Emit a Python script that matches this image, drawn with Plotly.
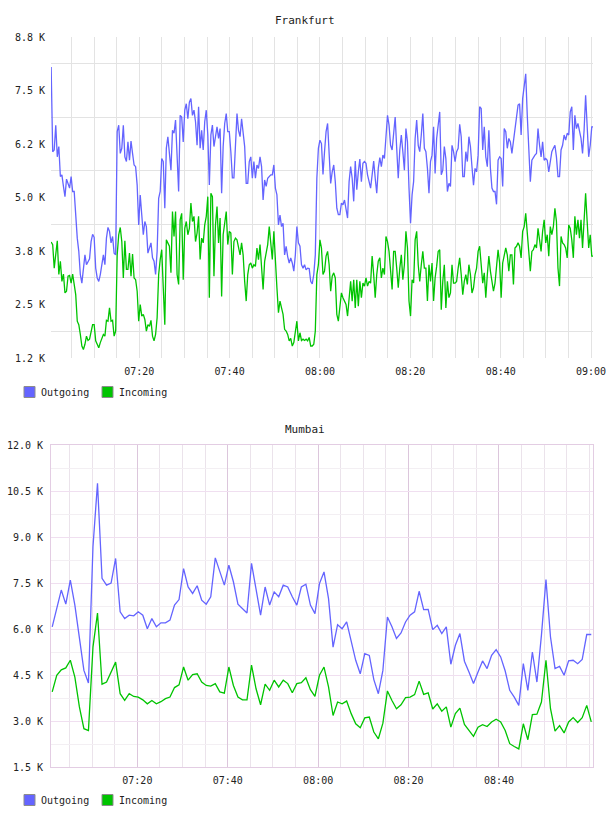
import numpy as np
import pandas as pd
import plotly.graph_objects as go

# ---------------- data (values in thousands) ----------------
fr_outgoing = [
    8.05, 6.07, 6.11, 6.69, 5.95, 6.19, 5.49, 5.53, 5.26, 5.02,
    5.43, 5.33, 5.22, 5.49, 5.14, 5.14, 4.48, 4.05, 3.74, 3.20,
    3.00, 3.28, 3.66, 3.43, 3.51, 3.57, 3.97, 4.14, 4.07, 3.35,
    3.12, 3.04, 3.20, 3.43, 3.66, 3.43, 4.05, 4.30, 4.21, 3.94,
    4.09, 3.70, 3.66, 6.54, 6.69, 6.03, 6.15, 6.69, 5.95, 5.84,
    6.30, 5.87, 6.32, 6.03, 5.76, 5.72, 5.29, 4.36, 5.06, 4.59,
    4.13, 4.44, 4.32, 3.70, 3.82, 3.94, 3.59, 3.51, 3.20, 3.74,
    4.98, 5.14, 5.91, 5.84, 4.75, 6.15, 6.42, 6.07, 5.64, 6.57,
    6.50, 6.81, 6.03, 5.14, 6.92, 6.88, 6.30, 7.04, 7.19, 6.84,
    7.23, 7.31, 6.92, 7.04, 6.77, 6.22, 7.12, 6.15, 6.57, 6.11,
    6.77, 7.04, 6.46, 5.29, 6.46, 6.69, 6.19, 6.46, 6.65, 6.38,
    6.61, 5.10, 6.19, 6.73, 6.96, 6.54, 6.54, 6.07, 5.46, 5.46,
    6.19, 6.96, 6.57, 6.42, 6.84, 6.54, 6.19, 5.33, 5.33, 5.84,
    5.95, 5.45, 5.84, 5.45, 5.76, 5.68, 5.95, 5.72, 4.94, 5.41,
    5.26, 5.45, 5.49, 5.53, 5.53, 5.76, 5.22, 5.06, 4.36, 4.59,
    4.32, 4.40, 3.66, 3.86, 3.62, 3.47, 3.59, 3.47, 3.28, 3.66,
    4.32, 3.94, 3.86, 3.43, 3.35, 3.43, 3.31, 3.35, 3.34, 3.04,
    2.98, 3.20, 3.66, 5.45, 6.15,
    6.34, 6.26, 5.54, 6.07, 6.54, 6.73, 6.07, 5.33, 5.60, 5.76,
    5.37, 4.75, 4.60, 4.60, 4.87, 4.83, 4.94, 4.75, 4.52, 5.37,
    5.72, 5.45, 4.91, 5.85, 5.18, 5.60, 5.90, 5.37, 5.80, 5.84,
    5.80, 5.53, 5.33, 5.22, 5.53, 5.85, 5.45, 5.10, 5.68, 5.93,
    5.72, 5.99, 5.91, 6.57, 6.92, 6.69, 6.22, 6.11, 6.54, 6.88,
    6.15, 5.45, 6.11, 6.46, 6.07, 5.64, 6.61, 6.30, 5.22, 4.40,
    5.06, 5.37, 6.38, 6.81, 6.22, 6.07, 6.46, 6.96, 6.15, 6.07,
    5.68, 5.10, 5.84, 5.99, 6.65, 5.56, 6.38, 6.69, 7.00, 5.53,
    5.64, 6.19, 5.91, 5.14, 5.33, 5.26, 6.22, 6.07, 5.84, 6.07,
    6.15, 6.71, 6.42, 5.49, 5.49, 6.07, 5.84, 6.42, 6.19, 5.72,
    5.29, 5.68, 5.60, 5.99, 7.12, 7.08, 6.11, 6.65, 5.95, 5.72,
    6.57, 5.68, 5.22, 5.14, 5.14, 4.84, 5.87, 5.95, 5.91, 5.26,
    6.61, 6.54, 6.15, 6.38, 6.30, 6.03, 6.34, 6.54, 6.84, 7.16,
    7.19, 6.46, 7.31, 7.62, 7.89, 6.92, 6.07, 5.37, 5.87, 5.95,
    5.99, 6.03, 6.61, 6.22, 5.95, 6.30, 5.87, 5.91, 5.87, 5.60,
    5.87, 6.07, 6.15, 6.22, 5.95, 5.49, 5.49, 6.11, 6.22, 6.46,
    6.34, 6.50, 6.46, 7.00, 7.12, 6.11, 6.92, 6.61, 6.73, 6.57,
    6.38, 6.03, 6.57, 7.39, 6.65, 5.95, 6.22, 6.65, 6.65,
]
fr_incoming = [
    3.96, 3.90, 3.35, 3.74, 3.99, 3.20, 3.51, 3.04, 3.21, 2.77,
    2.81, 3.16, 3.18, 3.00, 3.21, 2.97, 2.73, 2.11, 2.03, 1.80,
    1.53, 1.45, 1.57, 1.76, 1.66, 1.69, 1.84, 2.03, 2.03, 1.65,
    1.57, 1.49, 1.61, 1.73, 1.80, 1.76, 2.13, 2.11, 2.42, 2.11,
    2.13, 1.76, 1.88, 3.66, 4.13, 4.30, 3.97, 3.12, 3.99, 3.32,
    3.32, 3.70, 3.16, 3.68, 3.12, 3.08, 2.81, 2.11, 2.50, 2.23,
    2.27, 2.15, 1.88, 2.03, 1.99, 2.13, 1.76, 1.65, 1.80, 2.19,
    3.20, 3.55, 3.78, 2.89, 2.03, 4.01, 3.94, 3.86, 3.24, 4.67,
    4.09, 4.67, 3.20, 2.97, 4.48, 4.63, 3.08, 4.28, 4.44, 4.13,
    4.28, 4.87, 4.44, 4.56, 3.97, 4.17, 4.56, 3.55, 4.05, 3.94,
    4.36, 4.56, 5.02, 2.66, 5.10, 5.02, 3.16, 4.36, 4.79, 3.94,
    4.52, 2.69, 4.13, 4.44, 4.67, 3.90, 4.21, 4.17, 3.20, 3.97,
    4.05, 4.01, 3.82, 3.66, 3.94, 3.66, 3.04, 2.58, 3.20, 3.43,
    3.47, 3.35, 3.43, 3.39, 3.82, 3.55, 3.90, 3.43, 2.85, 3.51,
    3.74, 3.90, 4.32, 3.82, 3.55, 4.21, 3.35, 2.89, 2.31, 2.58,
    2.42, 2.27, 1.92, 1.88, 1.80, 1.65, 1.71, 1.53, 1.61, 1.84,
    2.11, 1.65, 1.84, 1.66, 1.69, 1.66, 1.69, 1.65, 1.73, 1.53,
    1.53, 1.57, 1.88, 3.20, 3.43,
    4.01, 3.82, 3.20, 3.28, 3.63, 3.74, 3.43, 2.81, 3.16, 3.24,
    3.12, 2.27, 2.11, 2.46, 2.77, 2.66, 2.58, 2.50, 2.23, 2.73,
    3.04, 2.58, 3.08, 2.42, 3.08, 2.46, 3.04, 2.66, 3.00, 2.93,
    3.12, 2.93, 3.04, 3.00, 3.63, 3.20, 2.66, 3.20, 3.51, 3.59,
    3.12, 3.35, 3.20, 4.09, 3.97, 3.74, 3.20, 2.85, 3.74, 3.74,
    3.35, 2.89, 3.35, 3.66, 3.08, 3.43, 4.21, 3.82, 2.58, 2.23,
    3.08, 3.00, 4.01, 4.21, 3.43, 3.04, 3.43, 3.74, 3.35, 3.35,
    2.58, 3.43, 3.04, 3.47, 2.58, 3.12, 3.39, 3.74, 3.78, 2.38,
    3.04, 3.43, 2.42, 3.04, 2.66, 2.77, 3.43, 3.00, 3.00, 3.04,
    3.35, 3.59, 3.20, 2.73, 3.04, 3.20, 2.97, 3.43, 3.20, 2.77,
    2.89, 3.20, 3.35, 3.74, 3.86, 3.35, 3.00, 3.24, 2.66, 3.20,
    3.63, 3.28, 3.00, 2.81, 3.00, 3.35, 3.78, 3.47, 2.66, 3.47,
    3.66, 3.82, 3.66, 3.28, 3.66, 3.66, 2.97, 3.82, 3.86, 3.94,
    3.86, 3.59, 4.21, 4.32, 4.63, 4.13, 3.66, 3.28, 3.74, 3.78,
    3.90, 3.82, 4.28, 3.97, 3.74, 4.21, 4.48, 3.94, 4.13, 3.63,
    4.32, 4.13, 4.32, 4.75, 4.44, 3.35, 2.93, 4.09, 3.94, 3.90,
    3.82, 3.59, 4.36, 4.28, 4.01, 3.59, 4.56, 4.13, 4.48, 4.05,
    4.48, 3.82, 4.36, 5.10, 4.44, 3.82, 4.13, 3.63, 3.63,
]
mu_outgoing = [
    6.07, 6.67, 7.27, 6.81, 7.59, 6.78, 5.63, 4.65, 4.24, 8.68,
    10.75, 7.65, 7.43, 7.50, 8.30, 6.56, 6.34, 6.45, 6.43, 6.56,
    6.45, 6.01, 6.34, 6.07, 6.20, 6.20, 6.29, 6.78, 6.96, 7.97,
    7.37, 7.16, 7.41, 6.94, 6.81, 7.05, 8.32, 7.86, 7.43, 8.08,
    7.54, 6.81, 6.67, 6.52, 8.14, 7.27, 6.45, 7.37, 6.78, 7.21,
    7.05, 7.43, 7.37, 7.05, 6.78, 7.37, 7.46, 6.78, 6.50, 7.48,
    7.86, 6.99, 5.41, 6.14, 6.01, 6.23, 5.58, 4.98, 4.54, 5.20,
    5.14, 4.35, 3.89, 4.65, 6.39, 6.07, 5.69, 5.87, 6.23, 6.45,
    6.56, 7.23, 6.63, 6.64, 5.98, 6.12, 5.85, 6.07, 4.85, 5.47,
    5.85, 4.95, 4.60, 4.22, 4.60, 4.96, 4.71, 5.14, 5.33, 5.09,
    4.63, 4.00, 3.78, 3.51, 4.87, 4.00, 5.25, 4.27, 5.80, 7.61,
    5.74, 4.71, 4.78, 4.49, 4.96, 4.98, 4.87, 5.01, 5.82, 5.82,
]
mu_incoming = [
    3.95, 4.49, 4.67, 4.73, 4.98, 4.43, 3.46, 2.75, 2.69, 5.41,
    6.52, 4.20, 4.27, 4.60, 4.92, 3.89, 3.67, 3.89, 3.80, 3.78,
    3.69, 3.56, 3.67, 3.56, 3.63, 3.73, 3.78, 4.09, 4.18, 4.76,
    4.33, 4.51, 4.54, 4.27, 4.16, 4.14, 4.22, 3.95, 3.91, 4.76,
    4.16, 3.78, 3.69, 3.69, 4.82, 4.05, 3.53, 4.20, 4.00, 4.33,
    4.11, 4.33, 4.22, 3.92, 4.22, 4.25, 4.41, 4.02, 3.80, 4.49,
    4.76, 4.11, 3.18, 3.62, 3.56, 3.65, 3.24, 2.91, 2.78, 3.10,
    3.13, 2.64, 2.42, 2.93, 3.98, 3.67, 3.40, 3.53, 3.76, 3.78,
    3.86, 4.30, 3.87, 3.92, 3.39, 3.56, 3.32, 3.46, 2.80, 3.24,
    3.42, 2.89, 2.69, 2.50, 2.80, 2.88, 2.82, 2.97, 3.06, 2.97,
    2.69, 2.26, 2.17, 2.09, 2.91, 2.39, 3.21, 3.22, 3.62, 4.98,
    3.40, 2.67, 2.85, 2.61, 2.97, 3.11, 2.95, 3.11, 3.51, 2.97,
]

day = "2024-01-01 "
fr_first, fr_last = day + "07:00:30", day + "09:00:30"
mu_first, mu_last = day + "07:01:10", day + "09:00:25"
fr_xrange = [day + "07:00:28", day + "09:00:26"]
mu_xrange = [day + "07:00:54", day + "09:00:48"]

fr_xticks = ["07:20", "07:40", "08:00", "08:20", "08:40", "09:00"]
mu_xticks = ["07:20", "07:40", "08:00", "08:20", "08:40"]
fr_yvals = [1.25, 2.5, 3.75, 5.0, 6.25, 7.5, 8.75]
fr_ylabels = ["1.2 K", "2.5 K", "3.8 K", "5.0 K", "6.2 K", "7.5 K", "8.8 K"]
mu_yvals = [1.5, 3.0, 4.5, 6.0, 7.5, 9.0, 10.5, 12.0]
mu_ylabels = ["1.5 K", "3.0 K", "4.5 K", "6.0 K", "7.5 K", "9.0 K", "10.5 K", "12.0 K"]
series_names = ["Outgoing", "Incoming"]
titles = ["Frankfurt", "Mumbai"]

# ---------------- styling ----------------
W, H = 608, 816
BLUE, GREEN = "#6464ff", "#00c400"
FONT = "DejaVu Sans Mono"
TXT = "#222222"


def px(x):
    return x / W


def py(y):
    return 1 - y / H


def times(first, last, n):
    a, b = pd.Timestamp(first), pd.Timestamp(last)
    return pd.to_datetime(np.linspace(a.value, b.value, n))


fr_t_out = times(fr_first, fr_last, len(fr_outgoing))
fr_t_in = times(fr_first, fr_last, len(fr_incoming))
mu_t_out = times(mu_first, mu_last, len(mu_outgoing))
mu_t_in = times(mu_first, mu_last, len(mu_incoming))

fig = go.Figure()
fig.add_trace(go.Scatter(x=fr_t_out, y=fr_outgoing, name=series_names[0], mode="lines",
                         line=dict(color=BLUE, width=1.3), xaxis="x", yaxis="y", showlegend=False))
fig.add_trace(go.Scatter(x=fr_t_in, y=fr_incoming, name=series_names[1], mode="lines",
                         line=dict(color=GREEN, width=1.3), xaxis="x", yaxis="y", showlegend=False))
fig.add_trace(go.Scatter(x=mu_t_out, y=mu_outgoing, name=series_names[0], mode="lines",
                         line=dict(color=BLUE, width=1.3), xaxis="x2", yaxis="y2", showlegend=False))
fig.add_trace(go.Scatter(x=mu_t_in, y=mu_incoming, name=series_names[1], mode="lines",
                         line=dict(color=GREEN, width=1.3), xaxis="x2", yaxis="y2", showlegend=False))

tickfont = dict(family=FONT, size=10, color=TXT)
FR_GRID = "#e3e3e3"
MU_VMAJ, MU_VMIN = "#dcc6dc", "#ebe3eb"
MU_HMAJ, MU_HMIN = "#f0dff0", "#f3eff3"
MU_BORDER = "#e3cde3"

fr_ymid = [(a + b) / 2 for a, b in zip(fr_yvals[:-1], fr_yvals[1:])]
mu_ymid = [(a + b) / 2 for a, b in zip(mu_yvals[:-1], mu_yvals[1:])]

fig.update_layout(
    width=W, height=H,
    margin=dict(l=0, r=0, t=0, b=0, autoexpand=False),
    paper_bgcolor="white", plot_bgcolor="white",
    showlegend=False,
    xaxis=dict(domain=[px(51), px(593)], anchor="y", type="date", range=fr_xrange, automargin=False,
               tickmode="array", tickvals=[day + t for t in fr_xticks], ticktext=fr_xticks,
               showgrid=True, gridcolor=FR_GRID, gridwidth=1,
               minor=dict(dtick=300000, tick0=day + "07:00", showgrid=True, gridcolor=FR_GRID, gridwidth=1),
               zeroline=False, showline=False, ticks="", tickfont=tickfont, ticklabelstandoff=6),
    yaxis=dict(domain=[py(358), py(37)], anchor="x", range=[1.25, 8.75], automargin=False,
               tickmode="array", tickvals=fr_yvals, ticktext=fr_ylabels,
               showgrid=False,
               minor=dict(tickmode="array", tickvals=fr_ymid, showgrid=True, gridcolor=FR_GRID, gridwidth=1),
               zeroline=False, showline=False, ticks="", tickfont=tickfont, ticklabelstandoff=5),
    xaxis2=dict(domain=[px(51), px(593)], anchor="y2", type="date", range=mu_xrange, automargin=False,
                tickmode="array", tickvals=[day + t for t in mu_xticks], ticktext=mu_xticks,
                showgrid=True, gridcolor=MU_VMAJ, gridwidth=1,
                minor=dict(dtick=300000, tick0=day + "07:00", showgrid=True, gridcolor=MU_VMIN, gridwidth=1),
                zeroline=False, showline=True, linecolor=MU_BORDER, linewidth=1, mirror=True,
                ticks="", tickfont=tickfont, ticklabelstandoff=4),
    yaxis2=dict(domain=[py(767), py(445)], anchor="x2", range=[1.5, 12.0], automargin=False,
                tickmode="array", tickvals=mu_yvals, ticktext=mu_ylabels,
                showgrid=True, gridcolor=MU_HMAJ, gridwidth=1,
                minor=dict(tickmode="array", tickvals=mu_ymid, showgrid=True, gridcolor=MU_HMIN, gridwidth=1),
                zeroline=False, showline=True, linecolor=MU_BORDER, linewidth=1, mirror=True,
                ticks="", tickfont=tickfont, ticklabelstandoff=5),
)

# titles
for title, ty in zip(titles, [20, 429]):
    fig.add_annotation(text=title, x=px(305), y=py(ty), xref="paper", yref="paper",
                       xanchor="center", yanchor="middle", showarrow=False,
                       font=dict(family=FONT, size=11, color=TXT))

# legends (swatch + label) below each chart
for ly in [392, 800]:
    for name, color, sx in zip(series_names, [BLUE, GREEN], [24, 102]):
        fig.add_shape(type="rect", xref="paper", yref="paper",
                      x0=px(sx), x1=px(sx + 11), y0=py(ly + 5.5), y1=py(ly - 5.5),
                      fillcolor=color, line=dict(color="#8c8c8c", width=1))
        fig.add_annotation(text=name, x=px(sx + 15), y=py(ly), xref="paper", yref="paper",
                           xanchor="left", yanchor="middle", showarrow=False,
                           font=dict(family=FONT, size=10, color=TXT))

fig.write_html("out.html")
